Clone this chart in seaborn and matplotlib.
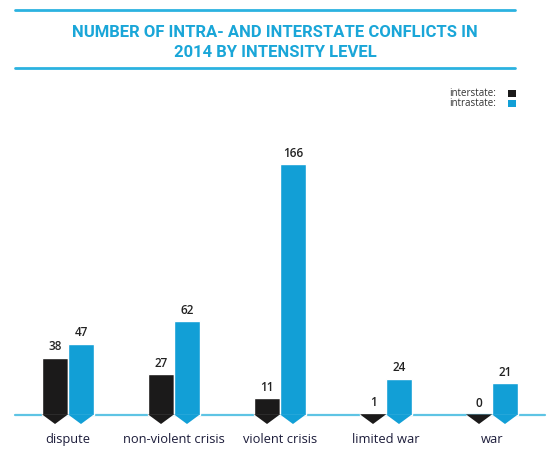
import numpy as np
import pandas as pd
import matplotlib
matplotlib.use("Agg")
import matplotlib.pyplot as plt
from matplotlib.patches import Polygon
from matplotlib.lines import Line2D
import seaborn as sns

# data
categories = ["dispute", "non-violent crisis", "violent crisis", "limited war", "war"]
interstate = [38, 27, 11, 1, 0]
intrastate = [47, 62, 166, 24, 21]

BLUE = "#129fd6"
BLACK = "#1b1a1a"
LINE = "#2bb2e0"

df = pd.DataFrame({
    "level": categories * 2,
    "count": interstate + intrastate,
    "type": ["interstate"] * len(categories) + ["intrastate"] * len(categories),
})

sns.set_style("white")
plt.rcParams["font.family"] = ["Open Sans", "DejaVu Sans"]

W, H = 552, 461
fig = plt.figure(figsize=(W / 100, H / 100), dpi=100)

# axes placement in pixels
px_l, px_r = 15, 545
px_base = 415          # baseline, from top
px_bot = 430           # axes bottom, from top
px_top = 120           # axes top, from top
scale = 1.51           # pixels per unit
ax = fig.add_axes([px_l / W, (H - px_bot) / H, (px_r - px_l) / W, (px_bot - px_top) / H])
ymin = -(px_bot - px_base) / scale
ymax = ymin + (px_bot - px_top) / scale

sns.barplot(data=df, x="level", y="count", hue="type", order=categories,
            hue_order=["interstate", "intrastate"], palette=[BLACK, BLUE],
            width=0.49, gap=0, saturation=1, ax=ax, legend=False)
ax.set_xlim(-0.5, 4.5)
ax.set_ylim(ymin, ymax)

# pointed bottoms + value labels
tip = 9 / scale
for p in ax.patches:
    x0, w = p.get_x(), p.get_width()
    if w <= 0:
        continue
    h = p.get_height()
    col = p.get_facecolor()
    tri = Polygon([[x0, 0.4], [x0 + w, 0.4], [x0 + w / 2, -tip]],
                  closed=True, facecolor=col, edgecolor="none", zorder=1)
    ax.add_patch(tri)
    ax.text(x0 + w / 2, h + 3.0, f"{int(round(h))}", ha="center", va="bottom",
            fontsize=8.5, fontweight="semibold", color="#222222")

ax.axhline(0, color="#5ec4e4", lw=1.6, zorder=0.5, clip_on=False)

ax.set_xlabel("")
ax.set_ylabel("")
ax.set_yticks([])
ax.set_xticks(range(len(categories)))
ax.set_xticklabels(categories, fontsize=9.3, color="#1c1c3a")
ax.tick_params(axis="x", length=0, pad=2.5)
for s in ax.spines.values():
    s.set_visible(False)

# title with rules
for yy in (10, 68):
    fig.add_artist(Line2D([15 / W, 515 / W], [1 - yy / H, 1 - yy / H], color=LINE, lw=2))
fig.text(275 / W, 1 - 42.5 / H, "NUMBER OF INTRA- AND INTERSTATE CONFLICTS IN\n2014 BY INTENSITY LEVEL",
         ha="center", va="center", fontsize=12, fontweight="semibold", color="#1aa6d8",
         linespacing=1.4, family=["Roboto", "DejaVu Sans"])

# legend
for yy, lab, col in ((93, "interstate:", BLACK), (104, "intrastate:", BLUE)):
    fig.text(496 / W, 1 - yy / H, lab, ha="right", va="center", fontsize=7, color="#333333")
    fig.patches.append(plt.Rectangle((508 / W, 1 - (yy + 3.5) / H), 8 / W, 7 / H,
                                     transform=fig.transFigure, facecolor=col, edgecolor="none"))

fig.savefig("out.png", dpi=100, facecolor="white")
